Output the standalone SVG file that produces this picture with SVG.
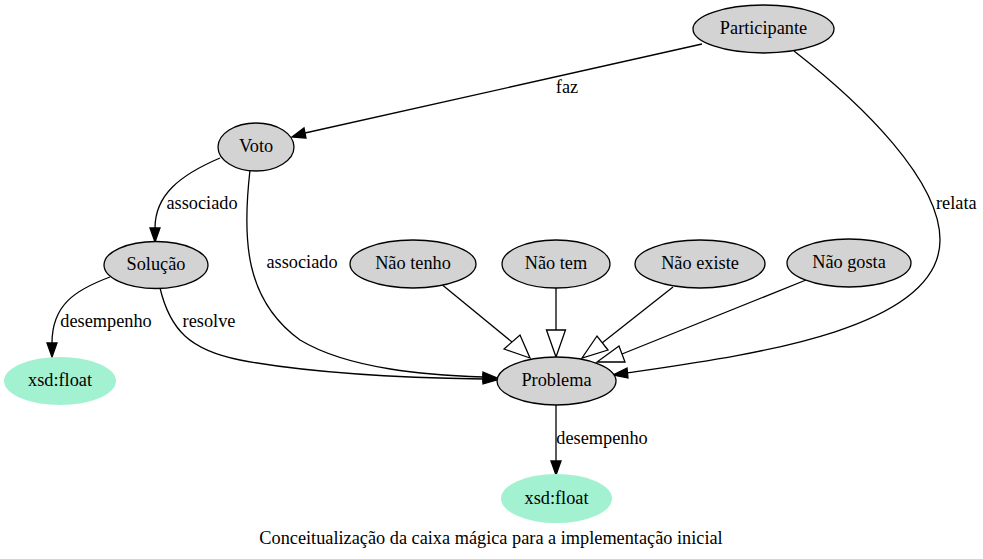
<svg xmlns="http://www.w3.org/2000/svg" width="983" height="559" viewBox="0 0 983 559">
<style>
text{font-family:"Liberation Serif","Times New Roman",serif;font-size:18.3px;fill:#000}
.n{text-anchor:middle}
.node ellipse{fill:#d3d3d3;stroke:#000;stroke-width:1.3}
.lit ellipse{fill:#a2f2d2;stroke:none}
.e path{fill:none;stroke:#000;stroke-width:1.3}
.e polygon.f{fill:#000;stroke:#000;stroke-width:1.3}
.e polygon.o{fill:#fff;stroke:#000;stroke-width:1.3}
</style>
<rect width="983" height="559" fill="#fff"/>
<g id="edges" class="e">
  <path d="M702,44 L305,133"/>
  <polygon class="f" points="306,138 292,137 304,128"/>
  <text x="567" y="93" class="n">faz</text>

  <path d="M794,51 C862,104 940,180 940,240 C940,330 750,355 627,373"/>
  <polygon class="f" points="627,368 613,375 628,378"/>
  <text x="936" y="209">relata</text>

  <path d="M220,158 C180,175 155,195 155,228"/>
  <polygon class="f" points="150,228 155,242 160,228"/>
  <text x="202" y="209" class="n">associado</text>

  <path d="M250,170 C242,240 245,300 300,340 C350,370 430,375 483,377"/>
  <polygon class="f" points="483,372 497,378 483,382"/>
  <text x="302" y="268" class="n">associado</text>

  <path d="M160,288 C170,330 190,350 240,360 C320,375 420,378 483,379"/>
  <polygon class="f" points="483,374 497,380 483,384"/>
  <text x="209" y="327" class="n">resolve</text>

  <path d="M110,277 C75,290 52,305 52,343"/>
  <polygon class="f" points="47,343 52,357 57,343"/>
  <text x="106" y="327" class="n">desempenho</text>

  <path d="M440,283 L512,342"/>
  <polygon class="o" points="504,349 530,358 520,335"/>

  <path d="M556,288 L556,330"/>
  <polygon class="o" points="546.5,330 556,357 565.5,330"/>

  <path d="M673,287 L602,343"/>
  <polygon class="o" points="597,336 582,358 608,350"/>

  <path d="M806,280 L622,354"/>
  <polygon class="o" points="619,346 597,362 625,362"/>

  <path d="M556,405 L556,461"/>
  <polygon class="f" points="551,461 556,475 561,461"/>
  <text x="602" y="444" class="n">desempenho</text>
</g>
<g id="Participante" class="node"><ellipse cx="763.5" cy="29" rx="70.5" ry="24"/><text x="763.5" y="34" class="n">Participante</text></g>
<g id="Voto" class="node"><ellipse cx="256" cy="147" rx="38" ry="24"/><text x="256" y="152" class="n">Voto</text></g>
<g id="Solucao" class="node"><ellipse cx="156" cy="265" rx="52" ry="23.5"/><text x="156" y="270" class="n">Solução</text></g>
<g id="NaoTenho" class="node"><ellipse cx="413" cy="264" rx="63" ry="24"/><text x="413" y="269" class="n">Não tenho</text></g>
<g id="NaoTem" class="node"><ellipse cx="556" cy="264" rx="54" ry="24"/><text x="556" y="269" class="n">Não tem</text></g>
<g id="NaoExiste" class="node"><ellipse cx="700" cy="264" rx="65" ry="24"/><text x="700" y="269" class="n">Não existe</text></g>
<g id="NaoGosta" class="node"><ellipse cx="849" cy="263" rx="62" ry="24"/><text x="849" y="268" class="n">Não gosta</text></g>
<g id="Problema" class="node"><ellipse cx="556.5" cy="381" rx="59.5" ry="24"/><text x="556.5" y="386" class="n">Problema</text></g>
<g id="float1" class="lit"><ellipse cx="60" cy="381" rx="56" ry="24"/><text x="60" y="386" class="n">xsd:float</text></g>
<g id="float2" class="lit"><ellipse cx="556.5" cy="498.5" rx="55.5" ry="24.5"/><text x="556.5" y="503.5" class="n">xsd:float</text></g>
<text x="491" y="544" class="n">Conceitualização da caixa mágica para a implementação inicial</text>
</svg>
